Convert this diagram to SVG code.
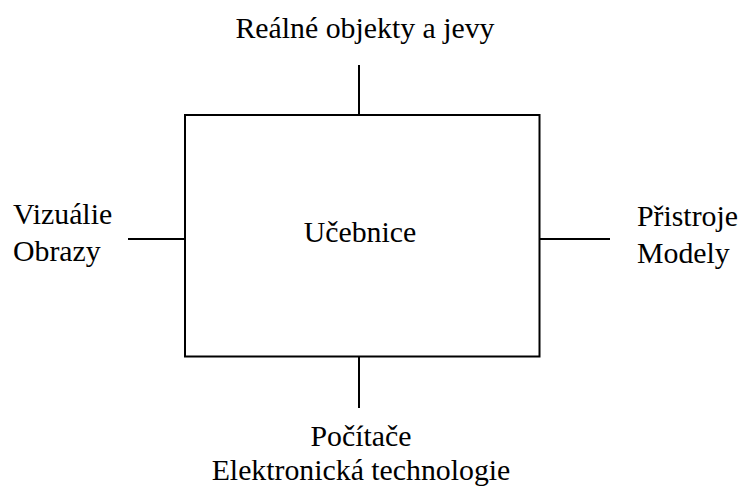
<svg xmlns="http://www.w3.org/2000/svg" width="740" height="489" viewBox="0 0 740 489">
<style>
.t{font-family:"Liberation Serif","Times New Roman",serif;font-size:29.8px;fill:#000}
.ln{stroke:#000;stroke-width:2;fill:none}
</style>
<rect width="740" height="489" fill="#fff"/>
<g id="connectors">
<line class="ln" x1="359" y1="65" x2="359" y2="115"/>
<line class="ln" x1="359" y1="356" x2="359" y2="408"/>
<line class="ln" x1="128" y1="239" x2="185" y2="239"/>
<line class="ln" x1="539" y1="239" x2="610" y2="239"/>
</g>
<g id="center">
<rect class="ln" x="185" y="115" width="354.5" height="241.5"/>
<text class="t" x="360" y="242" text-anchor="middle">Učebnice</text>
</g>
<g id="top">
<text class="t" x="365" y="38" text-anchor="middle">Reálné objekty a jevy</text>
</g>
<g id="left">
<text class="t" x="13" y="224">Vizuálie</text>
<text class="t" x="13" y="261">Obrazy</text>
</g>
<g id="right">
<text class="t" x="637" y="226">Přistroje</text>
<text class="t" x="637" y="263">Modely</text>
</g>
<g id="bottom">
<text class="t" x="361" y="446" text-anchor="middle">Počítače</text>
<text class="t" x="361" y="480" text-anchor="middle">Elektronická technologie</text>
</g>
</svg>
